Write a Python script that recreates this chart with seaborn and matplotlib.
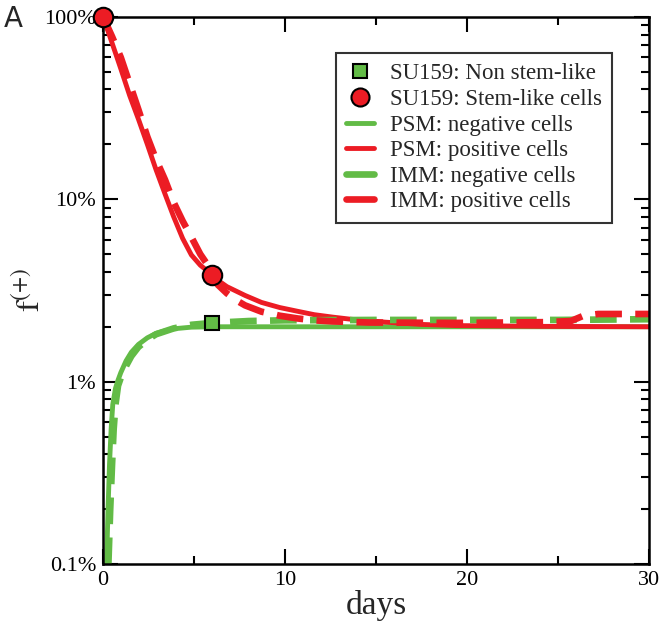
import numpy as np
import pandas as pd
import matplotlib
matplotlib.use("Agg")
import matplotlib.pyplot as plt
from matplotlib.lines import Line2D
from matplotlib.ticker import FixedLocator, FixedFormatter, LogLocator, NullFormatter
import seaborn as sns

# measured data (percent)
exp_days = [0, 6]
exp_stem = [100, 3.85]
exp_nonstem_days = [6]
exp_nonstem = [2.1]

psm_pos_t = [0, 0.49, 0.97, 1.46, 1.94, 2.43, 2.91, 3.4, 3.88, 4.37, 4.85, 5.34, 6,
             6.3, 6.8, 7.8, 8.7, 9.7, 10.7, 11.6, 12.6, 13.6, 15.5, 17.5, 19.4, 24.3, 30]
psm_pos_f = [100, 72, 52, 37, 27.5, 20, 14.5, 10.7, 8.0, 6.1, 4.95, 4.35, 3.85, 3.6,
             3.32, 2.97, 2.72, 2.55, 2.43, 2.33, 2.26, 2.2, 2.12, 2.06, 2.03, 2.01, 2.0]

imm_pos_t = [0, 0.49, 0.97, 1.46, 1.94, 2.43, 2.91, 3.4, 3.88, 4.37, 4.85, 5.34, 6,
             6.3, 6.8, 7.3, 7.8, 8.7, 9.7, 10.7, 11.6, 12.6, 14.6, 19.4, 24.3, 25.7,
             26.4, 27.2, 30]
imm_pos_f = [100, 78, 60, 43, 31, 22, 16.5, 12.8, 9.6, 7.6, 6.2, 5.0, 4.0, 3.4, 3.05,
             2.8, 2.62, 2.42, 2.3, 2.22, 2.17, 2.14, 2.11, 2.1, 2.12, 2.15, 2.3, 2.35, 2.35]

psm_neg_t = [0.19, 0.27, 0.35, 0.44, 0.53, 0.68, 0.82, 0.97, 1.26, 1.55, 1.94, 2.43,
             2.91, 3.4, 3.88, 4.85, 6, 10, 20, 30]
psm_neg_f = [0.1, 0.2, 0.35, 0.55, 0.75, 0.92, 1.02, 1.12, 1.3, 1.45, 1.6, 1.74, 1.84,
             1.9, 1.95, 1.99, 2.0, 2.0, 2.0, 2.0]

imm_neg_t = [0.29, 0.39, 0.49, 0.58, 0.68, 0.82, 0.97, 1.26, 1.55, 1.94, 2.43, 2.91,
             3.88, 4.85, 6, 8, 10, 15, 20, 25, 30]
imm_neg_f = [0.1, 0.2, 0.35, 0.55, 0.75, 0.95, 1.05, 1.22, 1.38, 1.55, 1.7, 1.82,
             1.96, 2.05, 2.1, 2.15, 2.17, 2.18, 2.18, 2.18, 2.2]

red = "#ec1c24"
green = "#62bb46"

sns.set_style("white")
plt.rcParams["font.family"] = ["Liberation Serif", "DejaVu Serif"]
plt.rcParams["mathtext.fontset"] = "stix"
plt.rcParams.update({
    "xtick.bottom": True, "xtick.top": True, "ytick.left": True, "ytick.right": True,
    "xtick.direction": "in", "ytick.direction": "in",
    "xtick.color": "black", "ytick.color": "black",
})

fig = plt.figure(figsize=(6.61, 6.24), dpi=100)
ax = fig.add_axes([0.156, 0.096, 0.826, 0.877])

sns.lineplot(x=psm_neg_t, y=psm_neg_f, ax=ax, color=green, lw=3.5, sort=False)
sns.lineplot(x=psm_pos_t, y=psm_pos_f, ax=ax, color=red, lw=3.5, sort=False)
sns.lineplot(x=imm_neg_t, y=imm_neg_f, ax=ax, color=green, lw=4.8, sort=False)
sns.lineplot(x=imm_pos_t, y=imm_pos_f, ax=ax, color=red, lw=4.8, sort=False)
for l in ax.lines[2:4]:
    l.set_dashes((4, 2))

ax.plot(exp_nonstem_days, exp_nonstem, "s", color=green, mec="black", mew=1.5,
        ms=10, clip_on=False, zorder=5)
ax.plot(exp_days, exp_stem, "o", color=red, mec="black", mew=1.5,
        ms=14, clip_on=False, zorder=5)

ax.set_yscale("log")
ax.set_xlim(0, 30)
ax.set_ylim(0.1, 100)
ax.yaxis.set_major_locator(FixedLocator([0.1, 1, 10, 100]))
ax.yaxis.set_major_formatter(FixedFormatter(["0.1%", "1%", "10%", "100%"]))
ax.yaxis.set_minor_locator(LogLocator(base=10, subs=np.arange(2, 10)))
ax.yaxis.set_minor_formatter(NullFormatter())
ax.set_xticks([0, 10, 20, 30])
ax.set_xticks([5, 15, 25], minor=True)

ax.tick_params(which="both", direction="in", top=True, right=True, left=True,
               bottom=True, labelsize=16, width=1.5, color="black")
ax.tick_params(which="major", length=11)
ax.tick_params(which="minor", length=5.5)
ax.tick_params(axis="x", pad=5)
ax.tick_params(axis="y", pad=5)
for s in ax.spines.values():
    s.set_linewidth(1.8)
    s.set_color("black")

ax.set_xlabel("days", fontsize=24, labelpad=0)
ax.set_ylabel(r"$\mathrm{f}^{(+)}$", fontsize=24, labelpad=-2)

handles = [
    Line2D([], [], marker="s", ls="none", color=green, mec="black", mew=1.5, ms=10),
    Line2D([], [], marker="o", ls="none", color=red, mec="black", mew=1.5, ms=13),
    Line2D([], [], color=green, lw=3.5),
    Line2D([], [], color=red, lw=3.5),
    Line2D([], [], color=green, lw=4.8),
    Line2D([], [], color=red, lw=4.8),
]
labels = ["SU159: Non stem-like", "SU159: Stem-like cells", "PSM: negative cells",
          "PSM: positive cells", "IMM: negative cells", "IMM: positive cells"]
leg = ax.legend(handles, labels, loc="upper right", bbox_to_anchor=(0.932, 0.934),
                fontsize=16.5, frameon=True, fancybox=False, handlelength=1.2,
                borderpad=0.45, labelspacing=0.2, handletextpad=0.7,
                borderaxespad=0)
leg.get_frame().set_edgecolor("black")
leg.get_frame().set_linewidth(1.5)

fig.text(0.005, 0.97, "A", fontsize=20, family="DejaVu Sans", va="center")

fig.savefig("out.png", dpi=100)
